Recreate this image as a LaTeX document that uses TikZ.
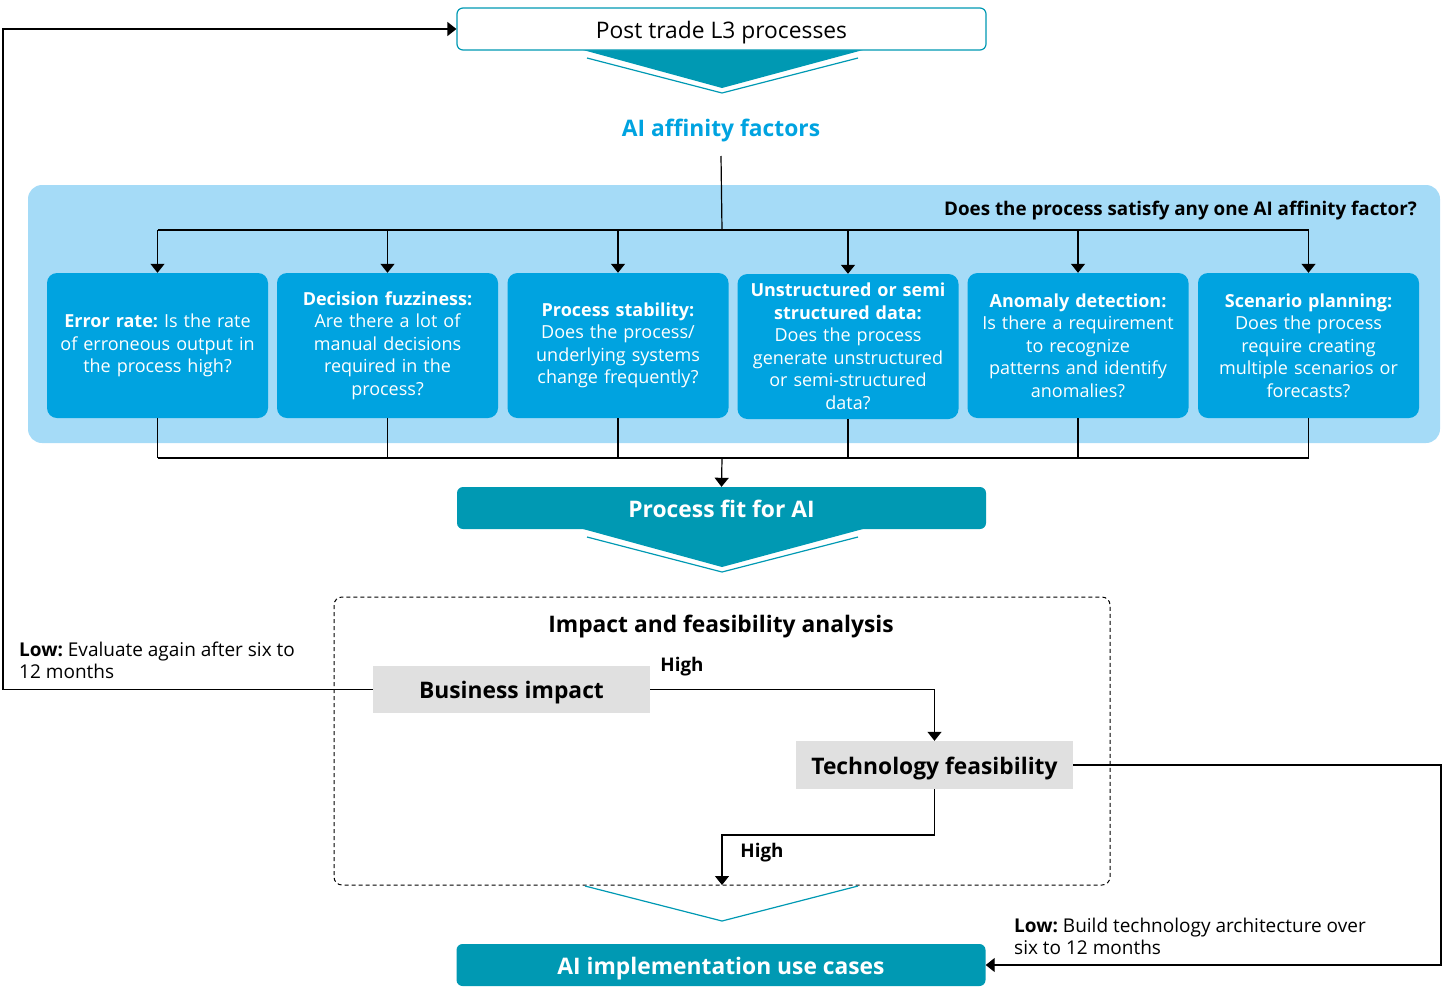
\documentclass[tikz,border=0pt]{standalone}
\usepackage{fontspec}
\setmainfont{Open Sans}
\usetikzlibrary{arrows.meta}
\definecolor{dteal}{HTML}{0099B3}
\definecolor{aiblue}{HTML}{00A3E0}
\definecolor{boxblue}{HTML}{00A3E0}
\definecolor{panelblue}{HTML}{A5DBF7}
\definecolor{greybox}{HTML}{E0E0E0}
\frenchspacing
\begin{document}
\begin{tikzpicture}[x=1pt,y=-1pt,
  arr/.style={-{Triangle[width=14pt,length=9pt]}},
  conn/.style={line width=1.2pt,draw=black},
  factor/.style={fill=boxblue,rounded corners=10pt,minimum width=221pt,minimum height=145pt,
     text width=207pt,align=center,text=white,font=\fontsize{18}{22.5}\selectfont,inner sep=0pt},
  bigbox/.style={rounded corners=6pt,minimum width=529pt,minimum height=42pt,inner sep=0pt,
     text height=18pt,text depth=0pt},
  bigfont/.style={font=\fontsize{22.8}{26}\selectfont\bfseries},
  greyb/.style={fill=greybox,minimum width=277pt,minimum height=47pt,inner sep=0pt,
     text height=17pt,text depth=0pt,bigfont},
  lbl/.style={font=\fontsize{19}{22}\selectfont,align=left,inner sep=0pt},
  hlbl/.style={font=\fontsize{18.8}{22}\selectfont\bfseries,inner sep=0pt},
  chev/.style={draw=dteal,line width=1.2pt}
]
\useasboundingbox (0,0) rectangle (1442,986);

% top box
\fill[dteal] (583,50) -- (863,50) -- (722,88) -- cycle;
\draw[chev] (587,58) -- (722,93) -- (858,58);
\node[bigbox,draw=dteal,fill=white,line width=1.2pt,font=\fontsize{22.8}{26}\selectfont] (top) at (721.5,29) {Post trade L3 processes};

\node[text=aiblue,font=\fontsize{22.8}{26}\selectfont\bfseries] (aff) at (721,131) {AI affinity factors};

% panel
\fill[panelblue,rounded corners=14pt] (28,185) rectangle (1440,443);
\node[anchor=east,inner sep=0pt,font=\fontsize{18.8}{22}\selectfont\bfseries] (q) at (1417,211) {Does the process satisfy any one AI affinity factor?};

\node[factor] (f1) at (157.5,345.5) {\textbf{Error rate:} Is the rate\\of erroneous output in\\the process high?};
\node[factor] (f2) at (387.5,345.5) {\textbf{Decision fuzziness:}\\Are there a lot of\\manual decisions\\required in the\\process?};
\node[factor] (f3) at (618,345.5) {\textbf{Process stability:}\\Does the process/\\underlying systems\\change frequently?};
\node[factor] (f4) at (848,346.5) {\textbf{Unstructured or semi}\\\textbf{structured data:}\\Does the process\\generate unstructured\\or semi-structured\\data?};
\node[factor] (f5) at (1078,345.5) {\textbf{Anomaly detection:}\\Is there a requirement\\to recognize\\patterns and identify\\anomalies?};
\node[factor] (f6) at (1308.5,345.5) {\textbf{Scenario planning:}\\Does the process\\require creating\\multiple scenarios or\\forecasts?};

\coordinate (split) at (722,230);
\coordinate (merge) at (722,458);
\draw[conn] ([yshift=-10pt]aff.south) -- (split);
\draw[conn] (f1.north |- split) -- (f6.north |- split);
\foreach \n in {f1,f2,f3,f4,f5,f6}{
  \draw[conn,arr] (\n.north |- split) -- (\n.north);
  \draw[conn] (\n.south) -- (\n.south |- merge);
}
\draw[conn] (f1.south |- merge) -- (f6.south |- merge);

% process fit
\fill[dteal] (583,529) -- (863,529) -- (722,567) -- cycle;
\draw[chev] (587,537) -- (722,572) -- (858,537);
\node[bigbox,fill=dteal,text=white,bigfont] (fit) at (721.5,508) {Process fit for AI};
\draw[conn,arr] (merge) -- (fit.north);

% analysis
\draw[line width=1pt,dash pattern=on 4pt off 3pt,rounded corners=8pt] (334,597) rectangle (1110,885);
\node[bigfont] (ttl) at (721,627) {Impact and feasibility analysis};
\node[greyb] (bi) at (511.5,689.5) {Business impact};
\node[greyb,minimum height=48pt,text height=18pt] (tf) at (934.5,765) {Technology feasibility};
\node[hlbl] (h1) at (682,667) {High};
\node[hlbl] (h2) at (762,853) {High};

\draw[conn,arr] (bi.east) -| (tf.north);
\coordinate (hk) at (722,835);
\coordinate (hend) at (722,885);
\draw[conn,arr] (tf.south) |- (hk) -- (hend);

% bottom
\draw[chev] (585,886) -- (722,921) -- (858,886);
\node[bigbox,fill=dteal,text=white,bigfont] (use) at (721,965) {AI implementation use cases};

% low loops
\coordinate (lowL) at (3,692);
\draw[conn,arr] (bi.west) -- (bi.west -| lowL) |- (top.west);
\coordinate (lowR) at (1441,765);
\draw[conn,arr] (tf.east) -- (tf.east -| lowR) |- (use.east);

\node[lbl,anchor=north west] (l1) at (19,641.5) {\textbf{Low:} Evaluate again after six to\\12 months};
\node[lbl,anchor=north west] (l2) at (1014,917.5) {\textbf{Low:} Build technology architecture over\\six to 12 months};
\end{tikzpicture}
\end{document}
